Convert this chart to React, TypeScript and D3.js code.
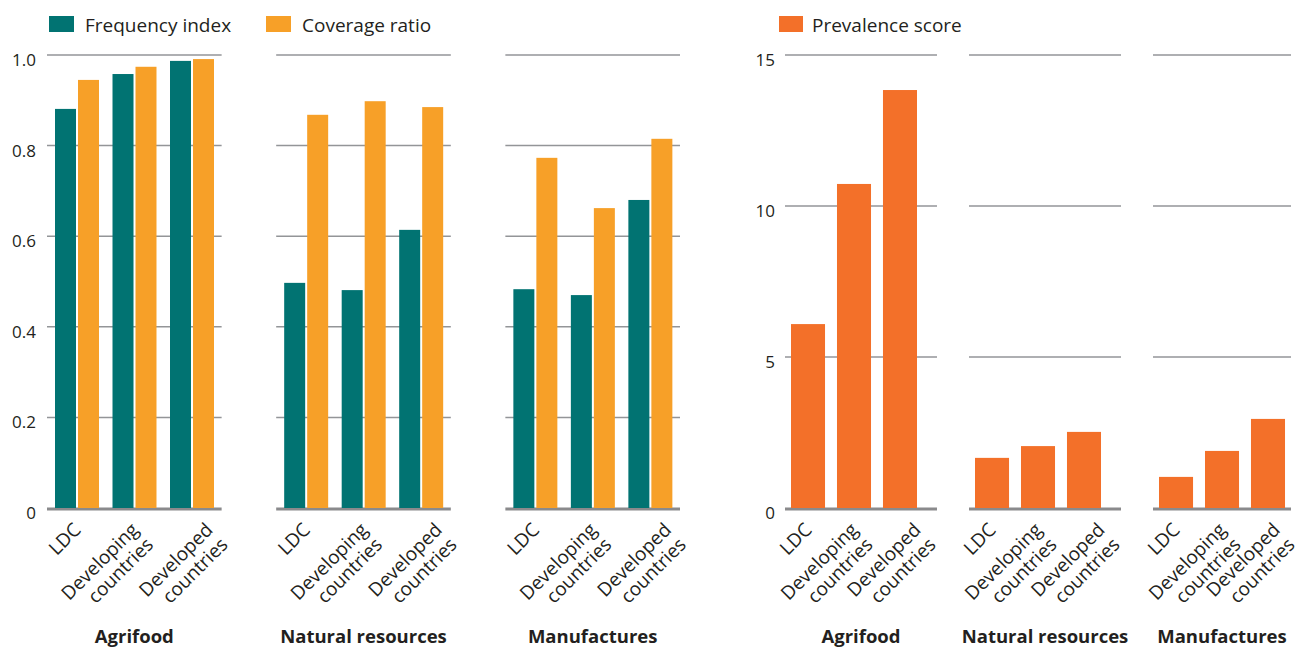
import React from "react";
import * as d3 from "d3";

// ---- data ----
const productGroups = ["Agrifood", "Natural resources", "Manufactures"];
const countryGroups = ["LDC", "Developing countries", "Developed countries"];
const seriesNames = ["Frequency index", "Coverage ratio"];
const frequencyIndex = [
  [0.881, 0.958, 0.987],
  [0.497, 0.481, 0.614],
  [0.483, 0.47, 0.68],
];
const coverageRatio = [
  [0.945, 0.974, 0.991],
  [0.868, 0.898, 0.885],
  [0.773, 0.662, 0.815],
];
const prevalenceName = "Prevalence score";
const prevalenceScore = [
  [6.09, 10.73, 13.84],
  [1.66, 2.05, 2.52],
  [1.03, 1.89, 2.95],
];
const leftTicks = [0, 0.2, 0.4, 0.6, 0.8, 1.0];
const rightTicks = [0, 5, 10, 15];

// ---- styles ----
const TEAL = "#017372";
const ORANGE = "#f7a028";
const DARK_ORANGE = "#f37029";
const GRID = "#939598";
const ZERO = "#8a8a8c";
const TEXT = "#231f20";
const FONT = "'Open Sans', 'Noto Sans', sans-serif";
const labelShift = [5, 5, 22];
const LINE_H = 21;

const W = 1300;
const H = 648;
const Y0 = 508;
const Y1 = 55;

function CategoryLabel({ x, y, text }: { x: number; y: number; text: string }) {
  const lines = text.split(" ");
  return (
    <text
      transform={`translate(${x},${y}) rotate(-45)`}
      textAnchor="end"
      fontSize={19}
      fill={TEXT}
      fontFamily={FONT}
    >
      {lines.map((l, i) => (
        <tspan key={i} x={0} dy={i === 0 ? 0 : LINE_H}>
          {l}
        </tspan>
      ))}
    </text>
  );
}

export default function App() {
  const yL = d3.scaleLinear().domain([0, 1]).range([Y0, Y1]);
  const yR = d3.scaleLinear().domain([0, 15]).range([Y0, Y1]);

  const panelsL = d3.scaleBand<string>().domain(productGroups).range([47, 680]).paddingInner(0.238).paddingOuter(0);
  const panelsR = d3.scaleBand<string>().domain(productGroups).range([785, 1305]).paddingInner(0.174).paddingOuter(0);

  const fmtL = (v: number) => (v === 0 ? "0" : d3.format(".1f")(v));

  const seriesL = [frequencyIndex, coverageRatio];
  const colorsL = [TEAL, ORANGE];
  // keep the last rotated label inside the picture (second line ends ~LINE_H*0.707 to the right)
  const maxAnchor = W - 4 - LINE_H * Math.SQRT1_2;

  return (
    <svg width={W} height={H} style={{ position: "absolute", left: 0, top: 0, background: "#fff" }} fontFamily={FONT}>
      {/* Legends */}
      <rect x={49} y={16} width={25} height={16} fill={TEAL} />
      <text x={85} y={32} fontSize={19} fill={TEXT}>{seriesNames[0]}</text>
      <rect x={266} y={16} width={25} height={16} fill={ORANGE} />
      <text x={302} y={32} fontSize={19} fill={TEXT}>{seriesNames[1]}</text>
      <rect x={779} y={16} width={24} height={16} fill={DARK_ORANGE} />
      <text x={812} y={32} fontSize={19} fill={TEXT}>{prevalenceName}</text>

      {/* Left chart ticks */}
      {leftTicks.map((t) => (
        <text key={t} x={36} y={yL(t) + 11} textAnchor="end" fontSize={17} fill={TEXT}>
          {fmtL(t)}
        </text>
      ))}
      {/* Right chart ticks */}
      {rightTicks.map((t) => (
        <text key={t} x={775} y={yR(t) + 11} textAnchor="end" fontSize={17} fill={TEXT}>
          {t}
        </text>
      ))}

      {/* Left panels */}
      {productGroups.map((g, gi) => {
        const px = panelsL(g)!;
        const pw = panelsL.bandwidth();
        const xg = d3.scaleBand<string>().domain(countryGroups).range([px + 8, px + 8 + 159]).paddingInner(0.235).paddingOuter(0);
        const xs = d3.scaleBand<string>().domain(seriesNames).range([0, xg.bandwidth()]).paddingInner(0.087);
        return (
          <g key={g}>
            {leftTicks.filter((t) => t !== 0).map((t) => (
              <line key={t} x1={px} x2={px + pw} y1={yL(t)} y2={yL(t)} stroke={GRID} strokeWidth={1.5} />
            ))}
            <line x1={px} x2={px + pw} y1={yL(0) + 1} y2={yL(0) + 1} stroke={ZERO} strokeWidth={3} />
            {countryGroups.map((c, ci) =>
              seriesNames.map((s, si) => {
                const v = seriesL[si][gi][ci];
                return (
                  <rect
                    key={c + s}
                    x={xg(c)! + xs(s)!}
                    width={xs.bandwidth()}
                    y={yL(v)}
                    height={yL(0) - yL(v)}
                    fill={colorsL[si]}
                  />
                );
              })
            )}
            {countryGroups.map((c, ci) => (
              <CategoryLabel key={c} x={xg(c)! + xg.bandwidth() / 2 + labelShift[ci]} y={531} text={c} />
            ))}
            <text x={px + pw / 2} y={643} textAnchor="middle" fontSize={18.5} fontWeight="bold" fill={TEXT}>
              {g}
            </text>
          </g>
        );
      })}

      {/* Right panels */}
      {productGroups.map((g, gi) => {
        const px = panelsR(g)!;
        const pw = panelsR.bandwidth();
        const xEnd = Math.min(px + pw, 1291);
        const xg = d3.scaleBand<string>().domain(countryGroups).range([px + 6, px + 6 + 126]).paddingInner(0.26).paddingOuter(0);
        return (
          <g key={g}>
            {rightTicks.filter((t) => t !== 0).map((t) => (
              <line key={t} x1={px} x2={xEnd} y1={yR(t)} y2={yR(t)} stroke={GRID} strokeWidth={1.5} />
            ))}
            <line x1={px} x2={xEnd} y1={yR(0) + 1} y2={yR(0) + 1} stroke={ZERO} strokeWidth={3} />
            {countryGroups.map((c, ci) => {
              const v = prevalenceScore[gi][ci];
              return (
                <rect key={c} x={xg(c)!} width={xg.bandwidth()} y={yR(v)} height={yR(0) - yR(v)} fill={DARK_ORANGE} />
              );
            })}
            {countryGroups.map((c, ci) => (
              <CategoryLabel
                key={c}
                x={Math.min(xg(c)! + xg.bandwidth() / 2 + labelShift[ci], maxAnchor)}
                y={531}
                text={c}
              />
            ))}
            <text x={px + (xEnd - px) / 2} y={643} textAnchor="middle" fontSize={18.5} fontWeight="bold" fill={TEXT}>
              {g}
            </text>
          </g>
        );
      })}
    </svg>
  );
}
